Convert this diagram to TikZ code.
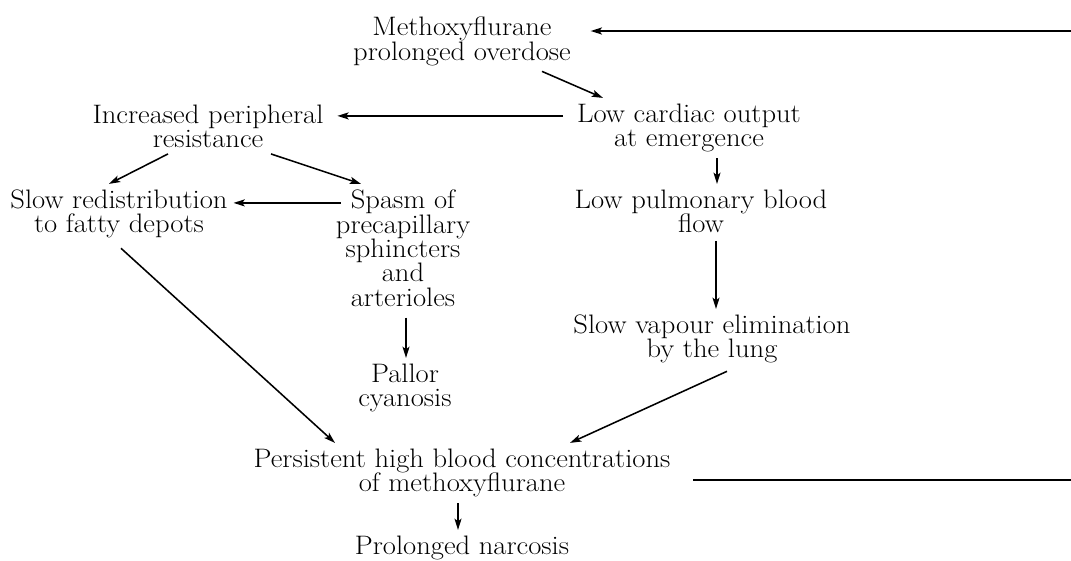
\documentclass[tikz,border=0pt]{standalone}
\usepackage{fontspec}
\setmainfont{Latin Modern Roman}[FakeStretch=1.07]
\usetikzlibrary{arrows.meta,calc}
\newcommand\mylblfont{\fontsize{19}{17.4}\selectfont\setlength{\lineskiplimit}{-20pt}}
\begin{document}
\begin{tikzpicture}[x=0.025cm,y=-0.025cm,
  lbl/.style={font={\mylblfont}, align=center, inner sep=4pt, anchor=north},
  arr/.style={line width=1.1pt, -{Stealth[length=8pt,width=5pt,inset=1.8pt]}},
  ln/.style={line width=1.1pt}]
\useasboundingbox (0,0) rectangle (1071,560);
% nodes
\node[lbl] (methoxy)   at (462,10.9)  {Methoxyflurane\\prolonged overdose};
\node[lbl] (lowcard)   at (689,97.9)  {Low cardiac output\\at emergence};
\node[lbl] (incr)      at (208,98.9)  {Increased peripheral\\resistance};
\node[lbl] (slowred)   at (119,183.9) {Slow redistribution\\to fatty depots};
\node[lbl] (spasm)     at (403,183.9) {Spasm of\\precapillary\\sphincters\\and\\arterioles};
\node[lbl] (pallor)    at (405,357.9) {Pallor\\cyanosis};
\node[lbl] (lowpulm)   at (701,183.9) {Low pulmonary blood\\flow};
\node[lbl] (slowvap)   at (712,308.9) {Slow vapour elimination\\by the lung};
\node[lbl] (persist)   at (462,442.9) {Persistent high blood concentrations\\of methoxyflurane};
\node[lbl] (prolonged) at (462,529.9) {Prolonged narcosis};
\coordinate (fbT) at (1071,31);
\coordinate (fbB) at (1071,480);
% connectors
\draw[arr] ($(methoxy.south)+(80,0)$) -- ($(lowcard.north)+(-86,0)$);
\draw[arr] ($(lowcard.north west)+(-8,18)$) -- ($(incr.north east)+(8,17)$);
\draw[arr] ($(incr.south)+(-40,0)$) -- ($(slowred.north)+(-10,0)$);
\draw[arr] ($(incr.south)+(63,0)$) -- ($(spasm.north)+(-42,0)$);
\draw[arr] ($(spasm.north west)+(11,19)$) -- ($(slowred.north east)+(0,19)$);
\draw[arr] ($(spasm.south)+(3,5)$) -- ($(pallor.north)+(1,0)$);
\draw[arr] ($(lowcard.south)+(28,0)$) -- ($(lowpulm.north)+(16,0)$);
\draw[arr] ($(lowpulm.south)+(15,2)$) -- ($(slowvap.north)+(4,0)$);
\draw[arr] ($(slowvap.south)+(15,2)$) -- ($(persist.north)+(108,0)$);
\draw[arr] ($(slowred.south)+(2,4)$) -- ($(persist.north)+(-127,0)$);
\draw[arr] ($(persist.south)+(-4,0)$) -- ($(prolonged.north)+(-4,0)$);
\draw[ln] ($(persist.east |- fbB)+(17,0)$) -- (fbB);
\draw[arr] (fbT) -- ($(methoxy.east |- fbT)+(14,0)$);
\end{tikzpicture}
\end{document}
